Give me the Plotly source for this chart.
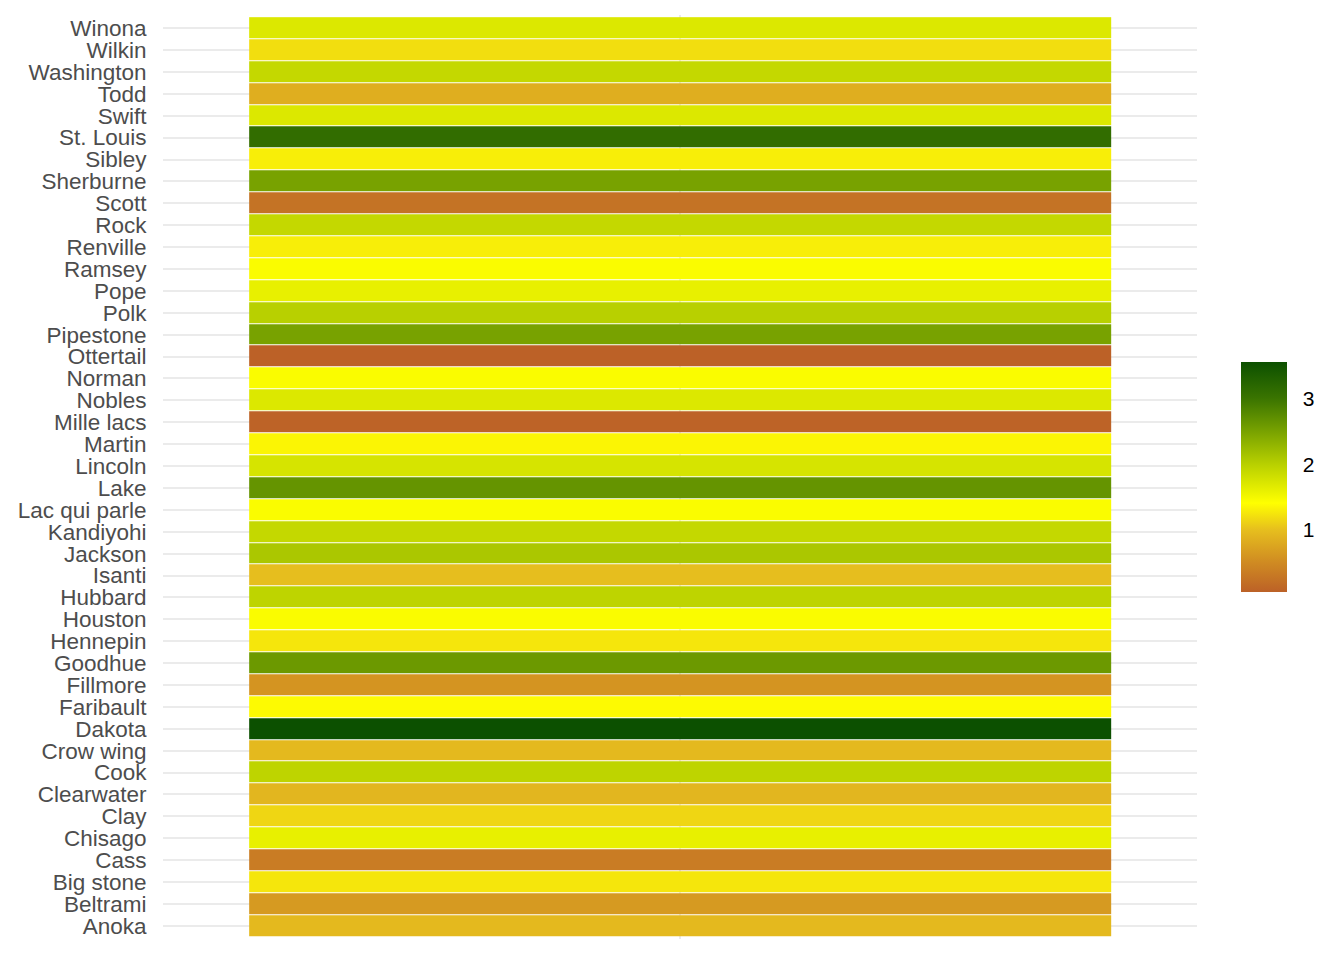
import plotly.graph_objects as go

counties = ["Winona", "Wilkin", "Washington", "Todd", "Swift", "St. Louis", "Sibley",
            "Sherburne", "Scott", "Rock", "Renville", "Ramsey", "Pope", "Polk",
            "Pipestone", "Ottertail", "Norman", "Nobles", "Mille lacs", "Martin",
            "Lincoln", "Lake", "Lac qui parle", "Kandiyohi", "Jackson", "Isanti",
            "Hubbard", "Houston", "Hennepin", "Goodhue", "Fillmore", "Faribault",
            "Dakota", "Crow wing", "Cook", "Clearwater", "Clay", "Chisago", "Cass",
            "Big stone", "Beltrami", "Anoka"]

values = [1.70, 1.20, 1.90, 0.85, 1.70, 3.10, 1.30,
          2.50, 0.25, 1.90, 1.30, 1.45, 1.60, 2.00,
          2.50, 0.06, 1.45, 1.70, 0.08, 1.35,
          1.75, 2.65, 1.45, 1.90, 2.10, 1.00,
          1.95, 1.45, 1.25, 2.60, 0.60, 1.38,
          3.55, 0.95, 1.95, 0.92, 1.15, 1.60, 0.35,
          1.25, 0.65, 0.95]

colorbar_ticks = [1, 2, 3]

zmin = min(values)
zmax = max(values)

stops = [(0.06, "#BC6127"), (0.5, "#CF8A22"), (1.0, "#E6BE1E"), (1.41, "#FFFF00"),
         (2.0, "#B8D000"), (2.5, "#78A200"), (3.0, "#3A7400"), (3.55, "#0C5000")]
colorscale = [[max(0, min(1, (v - zmin) / (zmax - zmin))), c] for v, c in stops]
colorscale[0][0] = 0.0
colorscale[-1][0] = 1.0

order = list(reversed(counties))

fig = go.Figure()
fig.add_trace(go.Heatmap(
    x=[0] * len(counties),
    y=counties,
    z=values,
    zmin=zmin, zmax=zmax,
    colorscale=colorscale,
    ygap=1,
    colorbar=dict(
        x=(1241 - 163) / 1034, xanchor="left", xpad=0,
        y=0.5, yanchor="middle", ypad=0,
        thickness=46, thicknessmode="pixels",
        len=230, lenmode="pixels",
        outlinewidth=0,
        tickvals=colorbar_ticks,
        ticks="outside", ticklen=12, tickcolor="rgba(0,0,0,0)",
        tickfont=dict(family="Liberation Sans, Arial, sans-serif", size=21, color="#000000"),
    ),
))

fig.update_layout(
    width=1344, height=960,
    margin=dict(l=163, r=147, t=15, b=21),
    paper_bgcolor="white", plot_bgcolor="white",
    font=dict(family="Liberation Sans, Arial, sans-serif", color="#4D4D4D"),
    xaxis=dict(range=[-0.6, 0.6], tickvals=[0], showticklabels=False,
               showgrid=True, gridcolor="#EBEBEB", gridwidth=2, zeroline=False,
               showline=False),
    yaxis=dict(type="category", categoryorder="array", categoryarray=order,
               tickmode="array", tickvals=order, ticktext=order,
               range=[-0.6, len(counties) - 0.4],
               showgrid=True, gridcolor="#EBEBEB", gridwidth=2.2, zeroline=False,
               ticks="outside", ticklen=11, tickcolor="rgba(0,0,0,0)",
               tickfont=dict(size=22.5, color="#4D4D4D")),
)

fig.write_html("out.html")
